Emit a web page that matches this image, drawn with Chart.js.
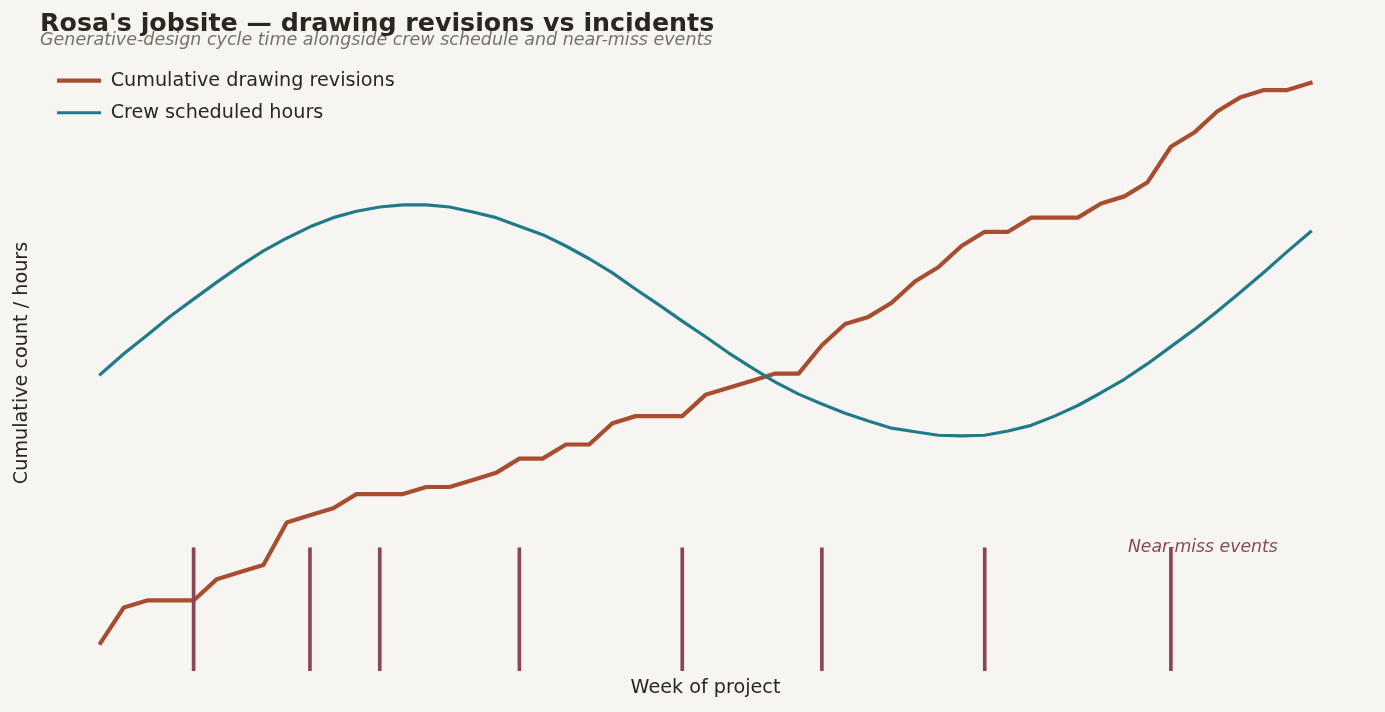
<!DOCTYPE html>
<html>
<head>
<meta charset="utf-8">
<title>Rosa's jobsite — drawing revisions vs incidents</title>
<script src="https://cdn.jsdelivr.net/npm/chart.js@4.4.1/dist/chart.umd.min.js"></script>
<style>
  html, body { margin: 0; padding: 0; background: #f7f5f1; }
  #wrap { width: 1385px; height: 712px; }
</style>
</head>
<body>
<div id="wrap"><canvas id="chart" width="1385" height="712"></canvas></div>
<script>
// weeks of the project
const weeks = [1, 2, 3, 4, 5, 6, 7, 8, 9, 10, 11, 12, 13, 14, 15, 16, 17, 18, 19, 20,
  21, 22, 23, 24, 25, 26, 27, 28, 29, 30, 31, 32, 33, 34, 35, 36, 37, 38, 39, 40,
  41, 42, 43, 44, 45, 46, 47, 48, 49, 50, 51, 52, 53];

// cumulative drawing revisions
const revisions = [2, 7, 8, 8, 8, 11, 12, 13, 19, 20, 21, 23, 23, 23, 24, 24, 25, 26, 28, 28,
  30, 30, 33, 34, 34, 34, 37, 38, 39, 40, 40, 44, 47, 48, 50, 53, 55, 58, 60, 60,
  62, 62, 62, 64, 65, 67, 72, 74, 77, 79, 80, 80, 81];

// crew scheduled hours
const crewHours = [39.9, 42.8, 45.4, 48.1, 50.5, 52.9, 55.2, 57.3, 59.1, 60.7, 62.0, 62.9, 63.5, 63.8, 63.8,
  63.5, 62.8, 62.0, 60.8, 59.6, 58.0, 56.2, 54.2, 51.9, 49.7, 47.4, 45.2, 42.9, 40.8, 38.8,
  37.1, 35.7, 34.4, 33.3, 32.3, 31.8, 31.3, 31.2, 31.3, 31.9, 32.7, 34.0, 35.5, 37.3, 39.2,
  41.4, 43.8, 46.2, 48.8, 51.5, 54.3, 57.2, 60.0];

// weeks with a near-miss event
const nearMissWeeks = [5, 10, 13, 19, 26, 32, 39, 47];

const REV_COLOR = '#a84d30';
const CREW_COLOR = '#1f7b8a';
const EVENT_COLOR = '#8c4556';
const INK = '#2b2620';

// 5% margins like the original autoscale
const revLo = Math.min(...revisions), revHi = Math.max(...revisions);
const yPad = (revHi - revLo) * 0.05;
const yMin = revLo - yPad, yMax = revHi + yPad;
const xPad = (weeks[weeks.length - 1] - weeks[0]) * 0.05;
const xMin = weeks[0] - xPad, xMax = weeks[weeks.length - 1] + xPad;
// event ticks fill the bottom fifth of the plot
const eventTop = yMin + (yMax - yMin) * 0.2;

Chart.defaults.font.family = "'DejaVu Sans', sans-serif";
Chart.defaults.color = INK;

const nearMissLabel = {
  id: 'nearMissLabel',
  // a vertical legend in the chart area starts at the canvas top, pull it into the plot
  afterLayout(chart) {
    chart.legend.top = chart.chartArea.top + 3;
    chart.legend.left = chart.chartArea.left + 4;
  },
  afterDatasetsDraw(chart) {
    const { ctx, scales: { x, y } } = chart;
    ctx.save();
    ctx.font = "italic 17.3px 'DejaVu Sans', sans-serif";
    ctx.fillStyle = EVENT_COLOR;
    ctx.textAlign = 'right';
    ctx.textBaseline = 'middle';
    ctx.fillText('Near-miss events', x.getPixelForDecimal(0.93), y.getPixelForValue(eventTop));
    ctx.restore();
  }
};

new Chart(document.getElementById('chart'), {
  type: 'line',
  data: {
    datasets: [
      {
        label: 'Cumulative drawing revisions',
        data: weeks.map((w, i) => ({ x: w, y: revisions[i] })),
        borderColor: REV_COLOR,
        backgroundColor: REV_COLOR,
        borderWidth: 4.2,
        borderJoinStyle: 'round',
        borderCapStyle: 'square',
        pointRadius: 0,
        tension: 0,
        order: 3
      },
      {
        label: 'Crew scheduled hours',
        data: weeks.map((w, i) => ({ x: w, y: crewHours[i] })),
        borderColor: CREW_COLOR,
        backgroundColor: CREW_COLOR,
        borderWidth: 3.2,
        borderJoinStyle: 'round',
        borderCapStyle: 'square',
        pointRadius: 0,
        tension: 0,
        order: 2
      },
      {
        type: 'bar',
        label: 'Near-miss events',
        data: nearMissWeeks.map(w => ({ x: w, y: [yMin, eventTop] })),
        backgroundColor: EVENT_COLOR,
        borderWidth: 0,
        barThickness: 3,
        grouped: false,
        order: 1
      }
    ]
  },
  options: {
    responsive: false,
    animation: false,
    events: [],
    layout: { padding: { left: 0, right: 14, top: 0, bottom: 0 } },
    scales: {
      x: {
        type: 'linear',
        min: xMin,
        max: xMax,
        offset: false,
        ticks: { display: false },
        grid: { display: false, drawTicks: false, offset: false },
        border: { display: false },
        title: {
          display: true,
          text: 'Week of project',
          color: INK,
          font: { size: 19.2 },
          padding: { top: 5.5, bottom: 12.5 }
        }
      },
      y: {
        min: yMin,
        max: yMax,
        ticks: { display: false },
        grid: { display: false, drawTicks: false },
        border: { display: false },
        title: {
          display: true,
          text: 'Cumulative count / hours',
          color: INK,
          font: { size: 19.2 },
          padding: { top: 10.5, bottom: 6.5 }
        }
      }
    },
    plugins: {
      title: {
        display: true,
        text: "Rosa's jobsite — drawing revisions vs incidents",
        align: 'start',
        fullSize: false,
        color: INK,
        font: { size: 25.3, weight: 'bold' },
        padding: { top: 9.5, bottom: 0 }
      },
      subtitle: {
        display: true,
        text: 'Generative-design cycle time alongside crew schedule and near-miss events',
        align: 'start',
        fullSize: false,
        color: '#77716a',
        font: { size: 17.5, style: 'italic' },
        padding: { top: -10.4, bottom: 4.5 }
      },
      legend: {
        position: 'chartArea',
        align: 'start',
        labels: {
          usePointStyle: true,
          pointStyle: 'line',
          pointStyleWidth: 44,
          padding: 13,
          color: INK,
          font: { size: 19.2 },
          filter: item => item.datasetIndex !== 2,
          sort: (a, b) => a.datasetIndex - b.datasetIndex
        }
      },
      tooltip: { enabled: false }
    }
  },
  plugins: [nearMissLabel]
});
</script>
</body>
</html>
